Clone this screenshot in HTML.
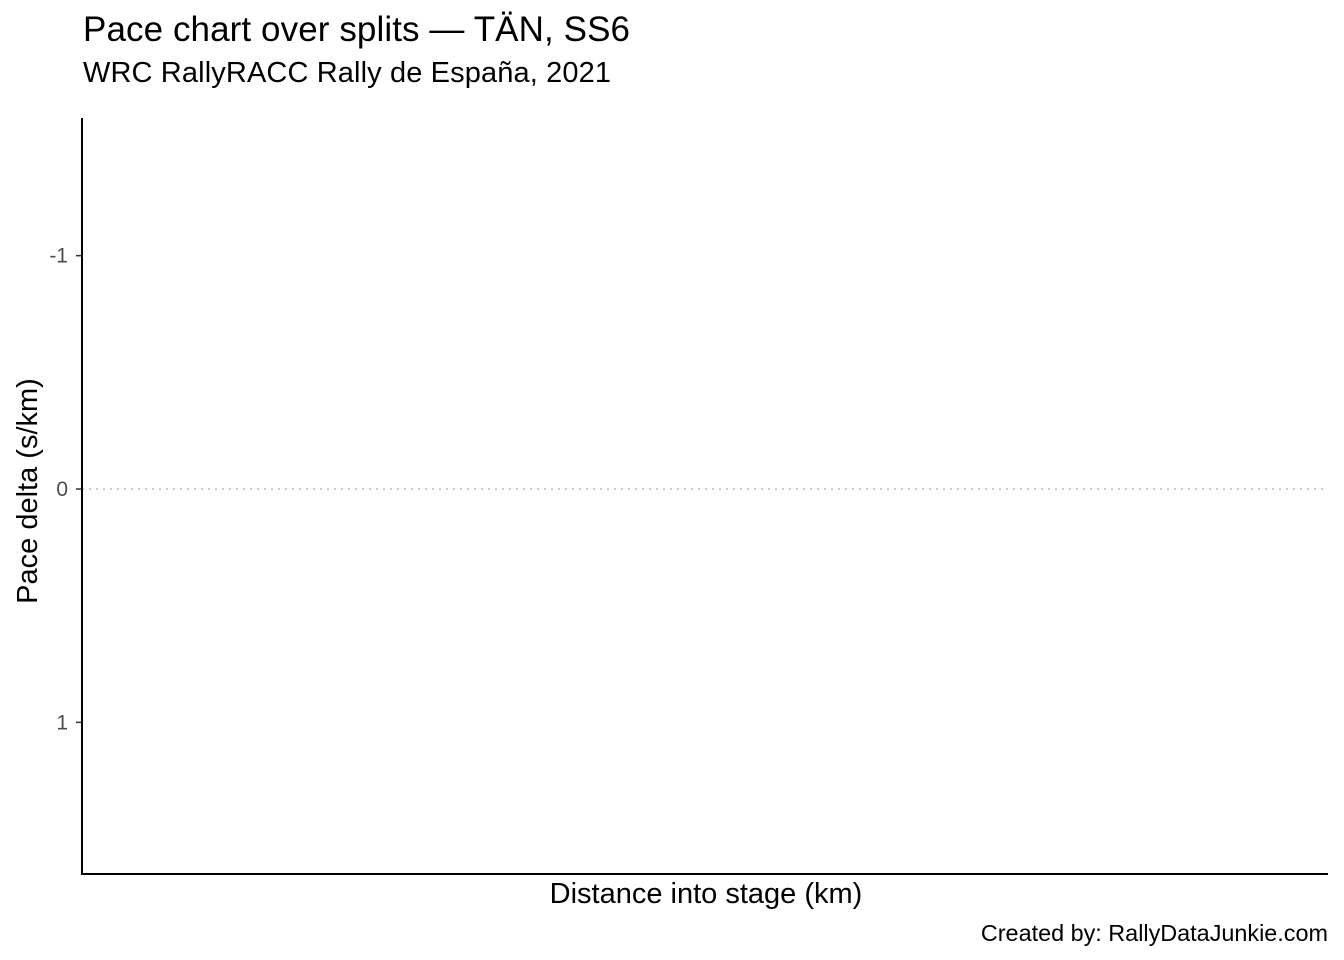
<!DOCTYPE html>
<html><head><meta charset="utf-8">
<style>
html,body{margin:0;padding:0;background:#fff;}
svg{display:block;font-family:"Liberation Sans",Arial,sans-serif;}
</style></head>
<body>
<svg id="chart" width="1344" height="960" viewBox="0 0 1344 960">
<rect width="1344" height="960" fill="#fff"/>
<text x="83" y="41" font-size="35" textLength="547" fill="#000">Pace chart over splits — TÄN, SS6</text>
<text x="83" y="82" font-size="29" textLength="528" fill="#000">WRC RallyRACC Rally de España, 2021</text>
<text transform="translate(37,491) rotate(-90)" text-anchor="middle" font-size="29" fill="#000">Pace delta (s/km)</text>
<text x="706" y="903" text-anchor="middle" font-size="29" fill="#000">Distance into stage (km)</text>
<text x="1328" y="941" text-anchor="end" font-size="23.4" fill="#000">Created by: RallyDataJunkie.com</text>
<g id="plot"></g>
</svg>
<script>
const yTicks = [-1, 0, 1];
const yTickLabels = ["-1", "0", "1"];
const refLines = [0];
const yDomain = [-1.59, 1.65];
const plotLeft = 82, plotRight = 1328, plotTop = 118, plotBottom = 874;
function yScale(v){ return plotTop + (v - yDomain[0]) / (yDomain[1] - yDomain[0]) * (plotBottom - plotTop); }
const NS = "http://www.w3.org/2000/svg";
const g = document.getElementById("plot");
function mk(tag, attrs){ const e = document.createElementNS(NS, tag); for (const k in attrs) e.setAttribute(k, attrs[k]); g.appendChild(e); return e; }
refLines.forEach(v => {
  const l = mk("line", {x1: plotLeft, x2: plotRight, y1: yScale(v), y2: yScale(v), stroke: "#cccccc", "stroke-width": 2, "stroke-dasharray": "2 5"});
  
  
});
yTicks.forEach((v, i) => {
  const y = yScale(v);
  const t = mk("line", {x1: plotLeft - 6, x2: plotLeft, y1: y, y2: y, stroke: "#333", "stroke-width": 1.5});
  
  
  const lb = mk("text", {x: plotLeft - 14, y: y + 7, "text-anchor": "end", "font-size": 21, fill: "#4d4d4d"});
  lb.textContent = yTickLabels[i];
  
  
});
const ya = mk("line", {x1: plotLeft, x2: plotLeft, y1: plotTop, y2: plotBottom + 1, stroke: "#000", "stroke-width": 2});


const xa = mk("line", {x1: plotLeft - 1, x2: plotRight, y1: plotBottom, y2: plotBottom, stroke: "#000", "stroke-width": 2});


</script>
</body></html>
